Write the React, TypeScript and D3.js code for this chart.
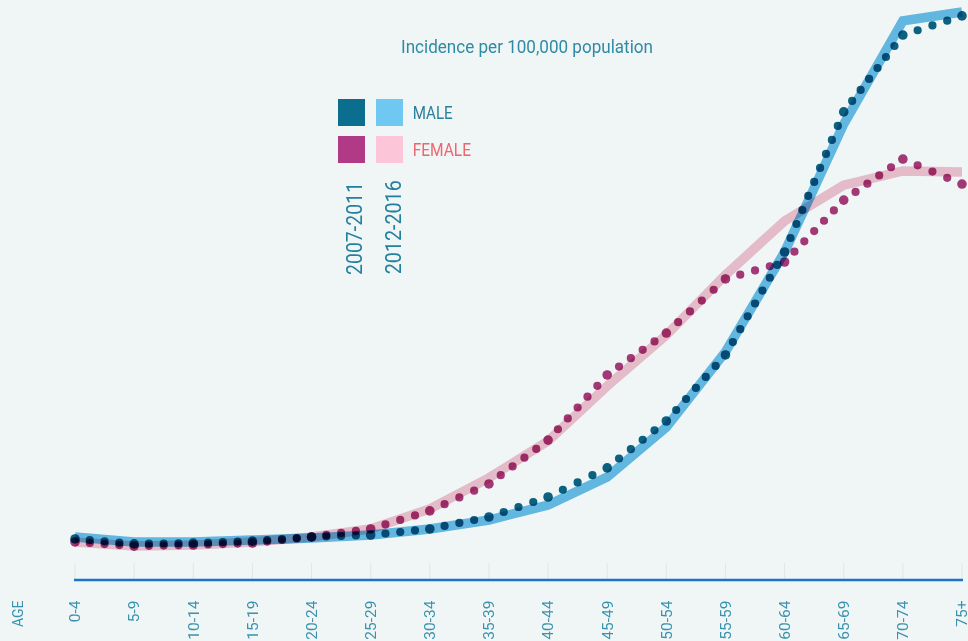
import React from "react";
import * as d3 from "d3";

const ageGroups = ["0-4","5-9","10-14","15-19","20-24","25-29","30-34","35-39","40-44","45-49","50-54","55-59","60-64","65-69","70-74","75+"];
const male2012 = [83, 60, 60, 69, 78, 92, 120, 161, 230, 359, 589, 935, 1395, 1984, 2459, 2500];
const female2012 = [60, 41, 46, 60, 83, 120, 212, 355, 525, 778, 1013, 1289, 1538, 1703, 1768, 1763];
const male2007 = [74, 51, 55, 64, 83, 92, 120, 175, 267, 401, 617, 921, 1395, 2040, 2394, 2482];
const female2007 = [60, 41, 46, 55, 83, 120, 203, 327, 529, 829, 1022, 1271, 1349, 1634, 1823, 1708];

const W = 968, H = 641;
const FONT = "Roboto, 'Noto Sans', sans-serif";

export default function App() {
  const x = d3.scalePoint<string>().domain(ageGroups).range([75, 962]);
  const y = d3.scaleLinear().domain([0, 2500]).range([555, 12]);
  const line = d3.line<number>().x((_, i) => x(ageGroups[i]) as number).y((d) => y(d)).curve(d3.curveLinear);

  const solid = (data: number[], color: string) => (
    <path d={line(data) || ""} fill="none" stroke={color} strokeWidth={9.5} strokeLinejoin="miter" style={{ mixBlendMode: "multiply" }} />
  );
  const dotted = (data: number[], color: string) => {
    const pts = data.map((d, i) => [x(ageGroups[i]) as number, y(d)] as [number, number]);
    const segs = pts.slice(1).map((p, i) => {
      const a = pts[i];
      const L = Math.hypot(p[0] - a[0], p[1] - a[1]);
      const n = Math.max(1, Math.round(L / 14.8));
      return { a, b: p, gap: L / n };
    });
    return (
      <g style={{ mixBlendMode: "multiply" }}>
        {segs.map((s, i) => (
          <path key={i} d={d3.line()([s.a, s.b]) || ""} fill="none" stroke={color} strokeWidth={8.2} strokeLinecap="round" strokeDasharray={`0 ${s.gap}`} />
        ))}
        {pts.map((p, i) => (
          <circle key={i} cx={p[0]} cy={p[1]} r={4.8} fill={color} />
        ))}
      </g>
    );
  };

  return (
    <svg width={W} height={H} style={{ position: "absolute", left: 0, top: 0 }} fontFamily={FONT}>
      <rect x={0} y={0} width={W} height={H} fill="#f0f5f5" />
      {ageGroups.map((a) => (
        <line key={a} x1={x(a)} x2={x(a)} y1={563} y2={580} stroke="#e0e7e8" strokeWidth={1} />
      ))}
      <line x1={74} x2={963} y1={580} y2={580} stroke="#1b74c6" strokeWidth={2.6} />
      {ageGroups.map((a) => (
        <text key={a} transform={`translate(${(x(a) as number) + 5.3},600.5) rotate(-90)`} textAnchor="end" fontSize={15.5} fill="#3a93ae">{a}</text>
      ))}
      <text transform="translate(22.7,600.5) rotate(-90)" textAnchor="end" fontSize={15} fill="#3a93ae" textLength={26.5} lengthAdjust="spacingAndGlyphs">AGE</text>

      {solid(female2012, "#f2c3d1")}
      {solid(male2012, "#67bfe9")}
      {dotted(female2007, "#ad3a7c")}
      {dotted(male2007, "#0c6585")}

      <text x={401} y={53.3} fontSize={19} fill="#2f8aa6" textLength={252} lengthAdjust="spacingAndGlyphs">Incidence per 100,000 population</text>

      <rect x={338} y={99} width={27} height={27} fill="#0b6e8f" />
      <rect x={376} y={99} width={27} height={27} fill="#6ec8f2" />
      <rect x={338} y={136} width={27} height={27} fill="#b03a85" />
      <rect x={376} y={136} width={27} height={27} fill="#fdc6d8" />
      <text x={412.7} y={119.3} fontSize={19} fill="#2a7f9c" textLength={40} lengthAdjust="spacingAndGlyphs">MALE</text>
      <text x={412.7} y={156.3} fontSize={19} fill="#ef6470" textLength={58.3} lengthAdjust="spacingAndGlyphs">FEMALE</text>
      <text transform="translate(361.7,275) rotate(-90)" fontSize={21.5} fill="#23809f" textLength={93} lengthAdjust="spacingAndGlyphs">2007-2011</text>
      <text transform="translate(400.7,274.3) rotate(-90)" fontSize={21.5} fill="#23809f" textLength={94} lengthAdjust="spacingAndGlyphs">2012-2016</text>
    </svg>
  );
}
